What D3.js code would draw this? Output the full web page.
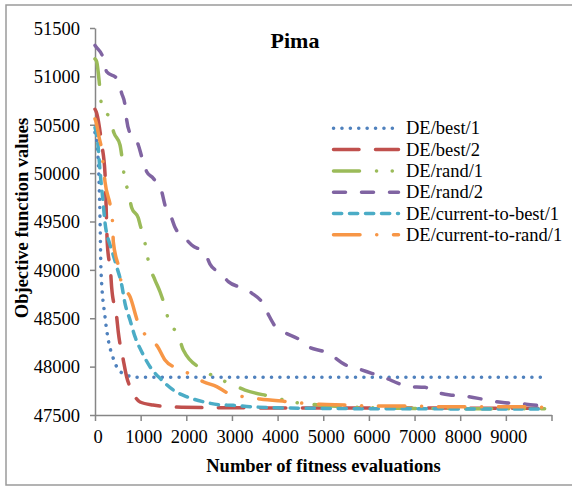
<!DOCTYPE html>
<html>
<head>
<meta charset="utf-8">
<script src="https://cdn.jsdelivr.net/npm/d3@7"></script>
<style>
  body { margin: 0; background: #fff; }
  svg { display: block; font-family: "Liberation Serif", "Times New Roman", serif; }
</style>
</head>
<body>
<svg id="chart" width="572" height="486"></svg>
<script>
const width = 572,
    height = 486,
    line_w = 3.5

// series: [fitness evaluations, objective value]
const seriesNames = ["DE/best/1", "DE/best/2", "DE/rand/1", "DE/rand/2",
    "DE/current-to-best/1", "DE/current-to-rand/1"]

const best1 = [[0, 50420], [44, 50311], [110, 49536], [131, 48999], [219, 48516],
    [291, 48275], [388, 48103], [475, 47999], [585, 47937], [913, 47890], [9850, 47890]]

const best2 = [[0, 50660], [37, 50620], [147, 50300], [219, 49998], [241, 49700],
    [269, 49275], [344, 48965], [366, 48813], [475, 48513], [510, 48358], [620, 48068],
    [694, 47893], [800, 47760], [986, 47634], [1270, 47603], [1899, 47580], [2738, 47575],
    [4000, 47573], [6000, 47572], [8000, 47571], [9850, 47570]]

const rand1 = [[0, 51180], [37, 51151], [110, 50859], [147, 50686], [329, 50559],
    [416, 50415], [548, 50291], [598, 50136], [642, 49963], [729, 49808], [804, 49643],
    [949, 49536], [1000, 49446], [1058, 49380], [1117, 49216], [1190, 49050], [1314, 48895],
    [1424, 48774], [1533, 48619], [1621, 48464], [1825, 48327], [1934, 48172], [2372, 47965],
    [2666, 47886], [2979, 47820], [3286, 47758], [3871, 47689], [4272, 47640], [5000, 47600],
    [6000, 47575], [7000, 47568], [8000, 47566], [9850, 47565]]

const rand2 = [[0, 51320], [22, 51306], [182, 51186], [256, 51048], [475, 50979],
    [585, 50824], [657, 50704], [694, 50549], [767, 50411], [949, 50291], [1023, 50170],
    [1133, 50015], [1277, 49946], [1461, 49808], [1533, 49670], [1680, 49532], [1752, 49440],
    [2009, 49309], [2118, 49257], [2410, 49171], [2519, 49060], [2775, 48955], [2920, 48878],
    [3249, 48809], [3433, 48760], [3687, 48645], [3796, 48540], [3980, 48396], [4162, 48350],
    [4491, 48275], [4673, 48206], [5001, 48157], [5185, 48115], [5476, 48020], [5733, 47983],
    [6061, 47931], [6353, 47885], [6644, 47827], [6863, 47793], [7229, 47786], [7448, 47741],
    [7776, 47707], [8068, 47696], [8396, 47672], [8653, 47648], [8981, 47627], [9273, 47621],
    [9601, 47603], [9850, 47596]]

const curBest1 = [[0, 50470], [22, 50430], [72, 50256], [94, 50118], [125, 49946],
    [169, 49739], [219, 49490], [329, 49257], [388, 49171], [475, 49033], [585, 48844],
    [657, 48654], [767, 48482], [876, 48310], [1023, 48154], [1205, 47999], [1461, 47862],
    [1715, 47758], [2009, 47689], [2372, 47637], [2738, 47605], [3030, 47600], [3395, 47586],
    [3980, 47575], [5000, 47568], [6000, 47565], [7000, 47564], [8000, 47563], [9850, 47562]]

const curRand1 = [[0, 50560], [22, 50532], [94, 50360], [147, 50239], [182, 50077],
    [219, 49912], [344, 49636], [388, 49471], [401, 49291], [532, 48999], [585, 48844],
    [767, 48723], [949, 48447], [1133, 48310], [1373, 48206], [1533, 48068], [1790, 47983],
    [2081, 47924], [2372, 47844], [2666, 47793], [2920, 47724], [3249, 47689], [3614, 47665],
    [4234, 47637], [4578, 47621], [4929, 47610], [5549, 47603], [5877, 47596], [6243, 47593],
    [6856, 47593], [7557, 47586], [8171, 47586], [8872, 47586], [9485, 47584], [9858, 47579]]

const seriesData = [best1, best2, rand1, rand2, curBest1, curRand1]

const xTicks = [0, 1000, 2000, 3000, 4000, 5000, 6000, 7000, 8000, 9000, 10000]
const xTickLabels = ["0", "1000", "2000", "3000", "4000", "5000", "6000", "7000", "8000", "9000", ""]
const yTicks = [47500, 48000, 48500, 49000, 49500, 50000, 50500, 51000, 51500]

const colors = ["#4F81BD", "#C0504D", "#9BBB59", "#8064A2", "#4BACC6", "#F79646"]
const dashes = ["0.1,8.3", "25.5,16.5", "26,17,0.1,15.6,0.1,17", "12,16", "8.2,7.8", "26.5,16.7,0.1,16.7"]

const svg = d3.select("#chart")

const x = d3.scaleLinear().domain([0, 10000]).range([95, 551.5]),
    y = d3.scaleLinear().domain([47500, 51500]).range([415, 28])

// chart frame (cropped on the right in the original)
svg.append("rect")
    .attr("x", 6).attr("y", 5)
    .attr("width", 600).attr("height", 480)
    .attr("fill", "none")
    .attr("stroke", "#9a9a9a")
    .attr("stroke-width", 1.5)

// y axis
const yAxis = svg.append("g")
    .attr("transform", "translate(95,0)")
    .call(d3.axisLeft(y).tickValues(yTicks).tickSize(5).tickSizeOuter(0).tickFormat(d3.format("d")))
yAxis.select(".domain").attr("stroke", "#868686").attr("stroke-width", 1.5)
yAxis.selectAll(".tick line").attr("stroke", "#868686").attr("stroke-width", 1.5)
yAxis.selectAll(".tick text")
    .attr("x", -15)
    .attr("dy", "0.34em")
    .style("font-size", "18.5px")
    .style("font-family", "Liberation Serif")
    .attr("fill", "#000")

// x axis
const xAxis = svg.append("g")
    .attr("transform", "translate(0,415)")
    .call(d3.axisBottom(x).tickValues(xTicks).tickSize(6).tickSizeOuter(0)
        .tickFormat((d, i) => xTickLabels[i]))
xAxis.select(".domain").attr("stroke", "#868686").attr("stroke-width", 1.5)
xAxis.selectAll(".tick line").attr("stroke", "#868686").attr("stroke-width", 1.5)
xAxis.selectAll(".tick text")
    .attr("x", 2.5)
    .attr("y", 15)
    .attr("dy", "0.71em")
    .style("font-size", "18.5px")
    .style("font-family", "Liberation Serif")
    .attr("fill", "#000")

// series lines
const line = d3.line()
    .x(d => x(d[0]))
    .y(d => y(d[1]))
    .curve(d3.curveMonotoneX)

svg.append("g")
    .attr("id", "series")
    .selectAll("path")
    .data(seriesData)
    .enter().append("path")
    .attr("d", line)
    .attr("fill", "none")
    .attr("stroke", (d, i) => colors[i])
    .attr("stroke-width", line_w)
    .attr("stroke-linecap", "round")
    .attr("stroke-linejoin", "round")
    .attr("stroke-dasharray", (d, i) => dashes[i])

// title
svg.append("text")
    .attr("x", 295).attr("y", 48)
    .attr("text-anchor", "middle")
    .style("font-size", "22px")
    .style("font-weight", "bold")
    .text("Pima")

// axis titles
svg.append("text")
    .attr("x", 323.5).attr("y", 472)
    .attr("text-anchor", "middle")
    .style("font-size", "18.5px")
    .style("font-weight", "bold")
    .text("Number of fitness evaluations")

svg.append("text")
    .attr("transform", "translate(28,218) rotate(-90)")
    .attr("text-anchor", "middle")
    .style("font-size", "18.5px")
    .style("font-weight", "bold")
    .text("Objective function values")

// legend
const legend = svg.append("g")
    .attr("id", "legend")
    .selectAll("g")
    .data(seriesNames)
    .enter().append("g")
    .attr("transform", (d, i) => "translate(0," + (128.3 + i * 21.3) + ")")

legend.append("line")
    .attr("x1", 333.5).attr("x2", 398.5)
    .attr("stroke", (d, i) => colors[i])
    .attr("stroke-width", line_w)
    .attr("stroke-linecap", "round")
    .attr("stroke-dasharray", (d, i) => dashes[i])

legend.append("text")
    .attr("x", 406)
    .attr("dy", "0.33em")
    .style("font-size", "18.5px")
    .text(d => d)
</script>
</body>
</html>
